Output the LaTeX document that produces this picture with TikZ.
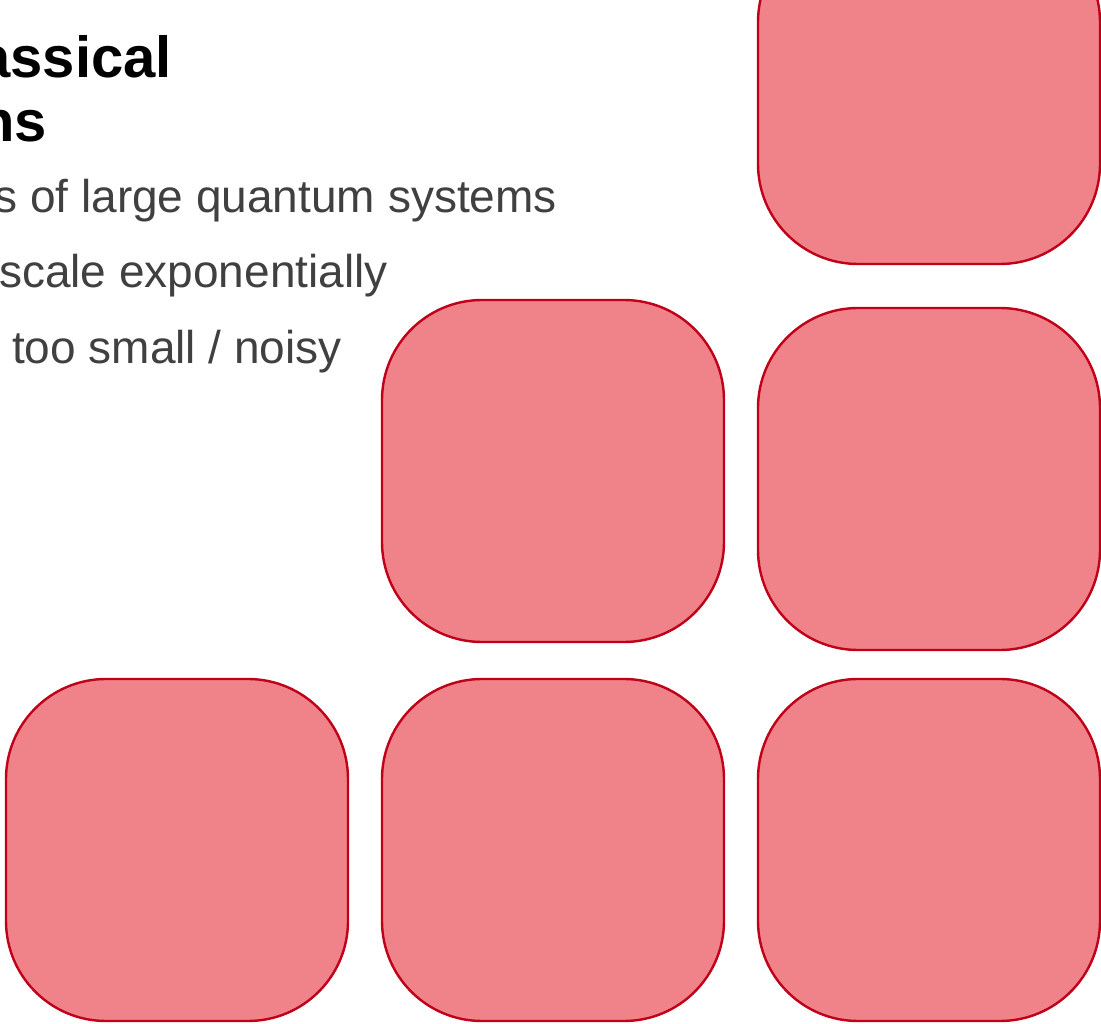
\documentclass[tikz,border=0pt]{standalone}
\usepackage{fontspec}
\setmainfont{Liberation Sans}
\usepackage{tikz}
\usetikzlibrary{positioning}
\usepackage{xcolor}
\definecolor{cellred}{RGB}{192,0,24}
\definecolor{cellpink}{RGB}{240,130,137}
\definecolor{bulletgray}{RGB}{64,64,64}
\tikzset{
    cell/.style={rectangle, draw=cellred, fill=cellpink, line width=2.4pt, minimum size=342pt, rounded corners=100pt, inner sep=0pt},
    headline/.style={anchor=base east, inner sep=0pt, text=black, font=\fontsize{58}{58}\selectfont\bfseries},
    bullet/.style={anchor=base east, inner sep=0pt, text=bulletgray, font=\fontsize{46}{46}\selectfont},
}
\begin{document}
\begin{tikzpicture}[x=1pt, y=-1pt]
    \useasboundingbox (0,0) rectangle (1101,1024);
    \clip (0,0) rectangle (1101,1024);

    % Title and bullets
    \node[headline] (t1) at (172,78) {assical};
    \node[headline] (t2) at (47,142) {ns};
    \node[bullet] (b1) at (557,213) {s of large quantum systems};
    \node[bullet] (b2) at (388,288) {scale exponentially};
    \node[bullet] (b3) at (342,363) {too small / noisy};

    % Cells
    \foreach \x/\y/\name in {929/93/c1, 553/471/c2, 929/479/c3, 177/850/c4, 553/850/c5, 929/850/c6} {
        \node[cell] (\name) at (\x, \y) {};
    }
\end{tikzpicture}
\end{document}
